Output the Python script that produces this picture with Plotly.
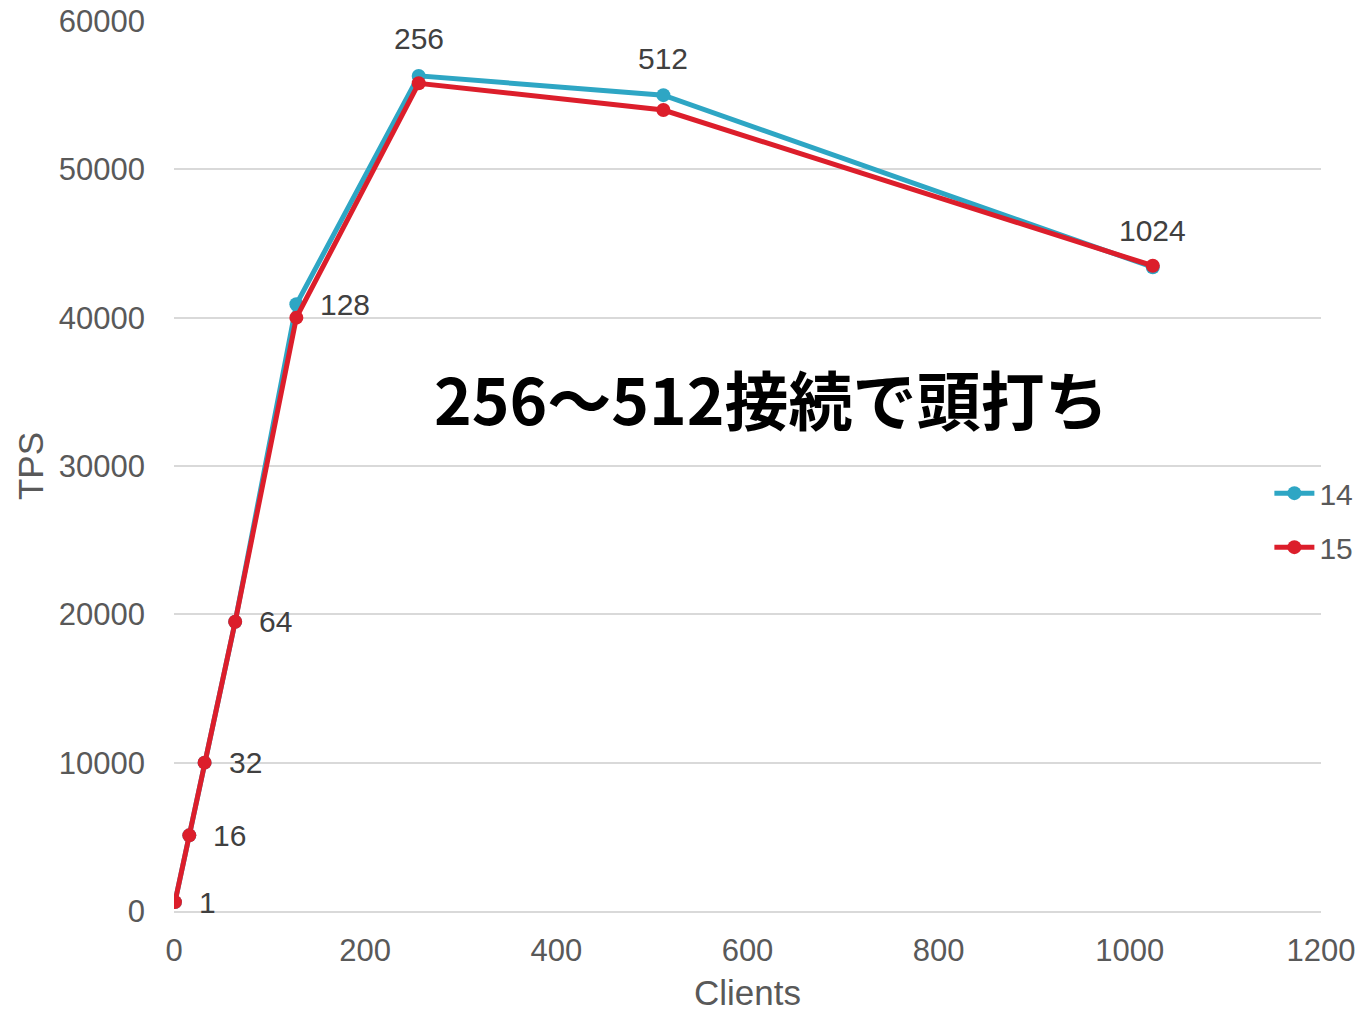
import plotly.graph_objects as go

# Client counts and measured TPS per PostgreSQL version
clients = [1, 16, 32, 64, 128, 256, 512, 1024]
tps_14 = [600, 5100, 10000, 19500, 40900, 56300, 55000, 43400]
tps_15 = [600, 5100, 10000, 19500, 40000, 55800, 54000, 43500]
point_labels = [str(c) for c in clients]
# labels sit to the right for small counts, above for the larger ones
label_above = [False] * 5 + [True] * 3

SANS = "Liberation Sans, Arial, sans-serif"
TICK_FONT = dict(family=SANS, size=31, color="#595959")
TITLE_FONT = dict(family=SANS, size=35, color="#595959")

fig = go.Figure()

fig.add_trace(go.Scatter(
    x=clients, y=tps_14, name="14", legendgroup="14",
    mode="lines+markers",
    line=dict(color="#2EA6C4", width=5),
    marker=dict(color="#2EA6C4", size=14),
))
fig.add_trace(go.Scatter(
    x=clients, y=tps_15, name="15", legendgroup="15",
    mode="lines+markers",
    line=dict(color="#DC1E2B", width=5),
    marker=dict(color="#DC1E2B", size=14),
))

# client-count labels next to each point of the first series
for cx, cy, lab, above in zip(clients, tps_14, point_labels, label_above):
    fig.add_annotation(
        x=cx, y=cy, text=lab, showarrow=False,
        xanchor="center" if above else "left", yanchor="middle",
        xshift=0 if above else 22, yshift=37 if above else 0,
        font=dict(family=SANS, size=30, color="#404040"),
    )

fig.add_annotation(
    x=0.5205, y=0.578, xref="paper", yref="paper",
    text="<b>256～512接続で頭打ち</b>", showarrow=False,
    xanchor="center", yanchor="middle",
    font=dict(family="Noto Sans CJK JP", size=64, color="#000000"),
)

fig.update_layout(
    width=1362, height=1012,
    margin=dict(l=174, r=41, t=21, b=101, autoexpand=False),
    paper_bgcolor="white", plot_bgcolor="white",
    showlegend=True,
    legend=dict(xref="container", yref="container", x=0.932, y=0.486,
                xanchor="left", yanchor="middle",
                font=dict(family=SANS, size=30, color="#595959"),
                bgcolor="rgba(0,0,0,0)",
                itemwidth=40, tracegroupgap=12),
    font=TICK_FONT,
)
fig.update_xaxes(
    range=[0, 1200], dtick=200, showgrid=False, zeroline=False,
    showline=True, linecolor="#D9D9D9", linewidth=1.5,
    tickfont=TICK_FONT, ticks="", automargin=False,
    ticklabelstandoff=11,
    title=dict(text="Clients", font=TITLE_FONT, standoff=30),
)
fig.update_yaxes(
    range=[0, 60000], dtick=10000, tickformat="d",
    showgrid=True, gridcolor="#D9D9D9", gridwidth=1.5,
    zeroline=False, showline=False, tickfont=TICK_FONT, ticks="",
    ticklabelstandoff=28, automargin=False,
    title=dict(text="TPS", font=TITLE_FONT, standoff=4),
)

fig.write_html("out.html")
